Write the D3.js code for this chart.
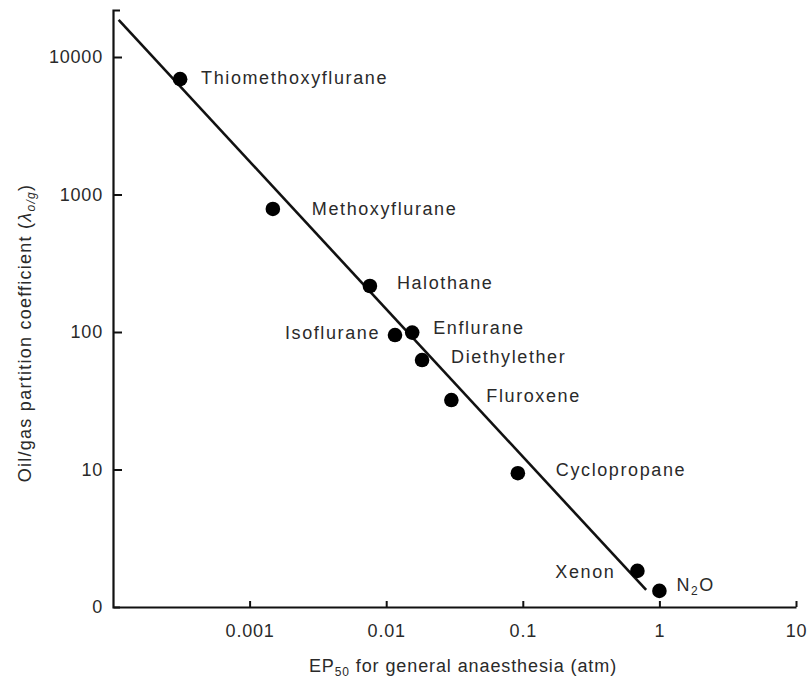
<!DOCTYPE html>
<html><head><meta charset="utf-8">
<script src="https://cdn.jsdelivr.net/npm/d3@7/dist/d3.min.js"></script>
<style>
body{margin:0;background:#fff;}
text{font-family:"Liberation Sans",Arial,sans-serif;fill:#2a2a2a;}
</style></head>
<body><svg id="c" width="808" height="683"></svg>
<script>
// Data
const agents = ["Thiomethoxyflurane","Methoxyflurane","Halothane","Isoflurane","Enflurane","Diethylether","Fluroxene","Cyclopropane","Xenon","N2O"];
const ep50   = [0.00031, 0.00148, 0.0076, 0.0116, 0.0155, 0.0183, 0.030, 0.092, 0.69, 1.0];
const oilGas = [6900, 785, 216, 95, 99, 62.5, 32, 9.4, 1.83, 1.31];
const fitX = [0.00011, 0.80];
const fitY = [18600, 1.33];
const xTicks = [0.001, 0.01, 0.1, 1, 10];
const xTickLabels = ["0.001","0.01","0.1","1","10"];
const yTicks = [1, 10, 100, 1000, 10000];
const yTickLabels = ["0","10","100","1000","10000"];

// label placement (offsets from point, px) and anchors
const labelDx = [21, 39, 27, -15, 21, 29, 35, 38, -22, 17];
const labelDy = [-1, 0, -3, -2, -5, -3, -4, -3, 1, -6];
const labelAnchor = ["start","start","start","end","start","start","start","start","end","start"];

const svg = d3.select("#c");
const x = d3.scaleLog().domain([1e-4, 10]).range([113, 796]);
const y = d3.scaleLog().domain([1, Math.pow(10, 597/137.5)]).range([607, 10]);

const fs = 18;

// axes
const gx = svg.append("g").attr("transform","translate(0,607)")
  .call(d3.axisBottom(x).tickValues(xTicks).tickFormat((d,i)=>xTickLabels[i])
    .tickSizeInner(-6).tickSizeOuter(0).tickPadding(14));
const gy = svg.append("g").attr("transform","translate(113,0)")
  .call(d3.axisLeft(y).tickValues(yTicks).tickFormat((d,i)=>yTickLabels[i])
    .tickSizeInner(-9).tickSizeOuter(-7).tickPadding(10));
[gx, gy].forEach(g=>{
  g.select(".domain").attr("stroke","#111").attr("stroke-width",2.2);
  g.selectAll(".tick line").attr("stroke","#111").attr("stroke-width",2);
  g.selectAll(".tick text").attr("font-size",fs).attr("letter-spacing",0.8)
   .attr("font-family","Liberation Sans, Arial, sans-serif").attr("fill","#2a2a2a");
});
gx.selectAll(".tick text").attr("dy","0.9em");
// remove tick line at y=1 (bottom, coincides with x axis)
gy.selectAll(".tick").filter(d=>d===1).select("line").remove();

// regression line
svg.append("line")
  .attr("x1", x(fitX[0])).attr("y1", y(fitY[0]))
  .attr("x2", x(fitX[1])).attr("y2", y(fitY[1]))
  .attr("stroke","#111").attr("stroke-width",2.6);

// points
svg.selectAll("circle.pt").data(agents).enter().append("circle")
  .attr("class","pt")
  .attr("cx",(d,i)=>x(ep50[i])).attr("cy",(d,i)=>y(oilGas[i]))
  .attr("r",7.3).attr("fill","#000");

// labels
const lab = svg.selectAll("text.lab").data(agents).enter().append("text")
  .attr("class","lab")
  .attr("x",(d,i)=>x(ep50[i])+labelDx[i])
  .attr("y",(d,i)=>y(oilGas[i])+labelDy[i])
  .attr("dy","0.35em")
  .attr("text-anchor",(d,i)=>labelAnchor[i])
  .attr("font-size",fs).attr("letter-spacing",1.6);
lab.each(function(d){
  const t = d3.select(this);
  if (d === "N2O") {
    t.append("tspan").text("N");
    t.append("tspan").text("2").attr("font-size",12).attr("dy","0.3em");
    t.append("tspan").text("O").attr("dy","-0.2em");
  } else t.text(d);
});

// axis titles
const xt = svg.append("text").attr("x",463).attr("y",672).attr("text-anchor","middle")
  .attr("font-size",fs).attr("letter-spacing",0.9);
xt.append("tspan").text("EP");
xt.append("tspan").text("50").attr("font-size",12).attr("dy","0.3em");
xt.append("tspan").text(" for general anaesthesia (atm)").attr("dy","-0.2em");

const yt = svg.append("text").attr("transform","translate(31,333) rotate(-90)")
  .attr("text-anchor","middle").attr("font-size",fs).attr("letter-spacing",1.25);
yt.append("tspan").text("Oil/gas partition coefficient (");
yt.append("tspan").text("λ").attr("font-style","italic");
yt.append("tspan").text("o/g").attr("font-style","italic").attr("font-size",12).attr("dy","0.3em");
yt.append("tspan").text(")").attr("dy","-0.2em");
</script></body></html>
